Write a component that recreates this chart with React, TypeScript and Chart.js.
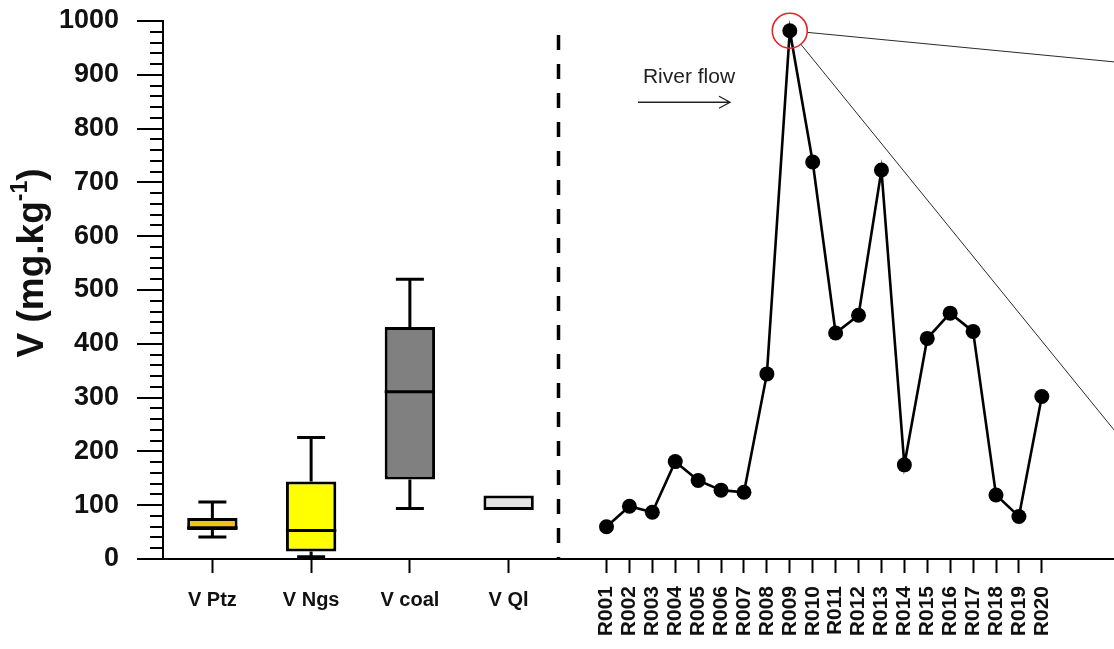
import React, { useEffect, useRef } from 'react';
import { Chart, registerables } from 'chart.js';

Chart.register(...registerables);

// ---------- data ----------
const boxCategories = ['V Ptz', 'V Ngs', 'V coal', 'V Ql'];
const boxWhiskerLow = [41, 4, 94, 91];
const boxQ1 = [54, 14, 148, 91];
const boxMedian: (number | null)[] = [58, 53, 311, null];
const boxQ3 = [76, 144, 431, 118];
const boxWhiskerHigh = [106, 226, 520, 118];
const boxColors = ['#f2c21a', '#ffff00', '#808080', '#e4e4e4'];

const siteLabels = [
  'R001', 'R002', 'R003', 'R004', 'R005', 'R006', 'R007', 'R008', 'R009', 'R010',
  'R011', 'R012', 'R013', 'R014', 'R015', 'R016', 'R017', 'R018', 'R019', 'R020',
];
const siteValues = [60, 98, 87, 181, 146, 128, 124, 344, 982, 738, 420, 453, 723, 175, 410, 457, 423, 119, 79, 302];

const yMin = 0;
const yMax = 1000;
const yMajorStep = 100;
const yMinorStep = 20;

const highlightIndex = 8; // R009
const connectorEndValues = [924, 240];

const FONT = '"Liberation Sans", Arial, Helvetica, sans-serif';

// ---------- plugins ----------
const yTicksPlugin = {
  id: 'yTicks',
  afterDraw(chart: any) {
    const { ctx, chartArea, scales } = chart;
    const y = scales.y;
    ctx.save();
    ctx.strokeStyle = '#000';
    ctx.lineWidth = 2;
    for (let v = yMin; v <= yMax; v += yMinorStep) {
      const py = Math.round(y.getPixelForValue(v));
      const len = v % yMajorStep === 0 ? 26 : 13;
      ctx.beginPath();
      ctx.moveTo(chartArea.left - len, py);
      ctx.lineTo(chartArea.left, py);
      ctx.stroke();
    }
    // axis title with superscript
    ctx.translate(33, 263);
    ctx.rotate(-Math.PI / 2);
    ctx.fillStyle = '#111';
    ctx.textBaseline = 'middle';
    ctx.textAlign = 'left';
    const main = `bold 37px ${FONT}`;
    const sup = `bold 23px ${FONT}`;
    ctx.font = main;
    const w1 = ctx.measureText('V (mg.kg').width;
    const w3 = ctx.measureText(')').width;
    ctx.font = sup;
    const w2 = ctx.measureText('-1').width;
    const total = w1 + w2 + w3;
    let x0 = -total / 2;
    ctx.font = main;
    ctx.fillText('V (mg.kg', x0, 0);
    x0 += w1;
    ctx.font = sup;
    ctx.fillText('-1', x0, -12);
    x0 += w2;
    ctx.font = main;
    ctx.fillText(')', x0, 0);
    ctx.restore();
  },
};

const boxPlugin = {
  id: 'boxWhiskers',
  afterDatasetsDraw(chart: any) {
    const { ctx, scales, chartArea } = chart;
    const x = scales.x;
    const y = scales.y;
    const meta = chart.getDatasetMeta(0);
    ctx.save();
    ctx.strokeStyle = '#000';
    ctx.lineWidth = 3;
    const capHalf = 14;
    boxCategories.forEach((_, i) => {
      const cx = x.getPixelForValue(i);
      const bar = meta.data[i];
      const half = bar ? bar.width / 2 : 25;
      if (boxWhiskerHigh[i] > boxQ3[i]) {
        const a = y.getPixelForValue(boxQ3[i]);
        const b = y.getPixelForValue(boxWhiskerHigh[i]);
        ctx.beginPath();
        ctx.moveTo(cx, a);
        ctx.lineTo(cx, b);
        ctx.moveTo(cx - capHalf, b);
        ctx.lineTo(cx + capHalf, b);
        ctx.stroke();
      }
      if (boxWhiskerLow[i] < boxQ1[i]) {
        const a = y.getPixelForValue(boxQ1[i]);
        const b = y.getPixelForValue(boxWhiskerLow[i]);
        ctx.beginPath();
        ctx.moveTo(cx, a);
        ctx.lineTo(cx, b);
        ctx.moveTo(cx - capHalf, b);
        ctx.lineTo(cx + capHalf, b);
        ctx.stroke();
      }
      const m = boxMedian[i];
      if (m != null) {
        const py = y.getPixelForValue(m);
        ctx.beginPath();
        ctx.moveTo(cx - half, py);
        ctx.lineTo(cx + half, py);
        ctx.stroke();
      }
    });
    // dashed separator
    ctx.setLineDash([15, 14]);
    ctx.lineWidth = 3.5;
    ctx.beginPath();
    ctx.moveTo(chartArea.right + 0.5, y.getPixelForValue(974));
    ctx.lineTo(chartArea.right + 0.5, chartArea.bottom);
    ctx.stroke();
    ctx.restore();
  },
};

const annotationPlugin = {
  id: 'annot',
  afterDatasetsDraw(chart: any) {
    const { ctx, scales, chartArea } = chart;
    const x = scales.x;
    const y = scales.y;
    const pt = chart.getDatasetMeta(0).data[highlightIndex];
    if (!pt) return;
    const cx = pt.x;
    const cy = pt.y;
    const r = 17.5;
    ctx.save();
    // connectors
    ctx.strokeStyle = '#2a2a2a';
    ctx.lineWidth = 1;
    connectorEndValues.forEach((v) => {
      const tx = chartArea.right;
      const ty = y.getPixelForValue(v);
      const ang = Math.atan2(ty - cy, tx - cx);
      ctx.beginPath();
      ctx.moveTo(cx + r * Math.cos(ang), cy + r * Math.sin(ang));
      ctx.lineTo(tx, ty);
      ctx.stroke();
    });
    // red circle
    ctx.strokeStyle = '#e3252b';
    ctx.lineWidth = 1.6;
    ctx.beginPath();
    ctx.arc(cx, cy, r, 0, Math.PI * 2);
    ctx.stroke();
    // River flow
    ctx.fillStyle = '#222';
    ctx.font = `21px ${FONT}`;
    ctx.textAlign = 'left';
    ctx.textBaseline = 'middle';
    ctx.fillText('River flow', x.getPixelForValue(2.59), y.getPixelForValue(896));
    const ax0 = x.getPixelForValue(2.375);
    const ax1 = x.getPixelForValue(6.39);
    const ay = y.getPixelForValue(849);
    ctx.strokeStyle = '#222';
    ctx.lineWidth = 1.3;
    ctx.beginPath();
    ctx.moveTo(ax0, ay);
    ctx.lineTo(ax1, ay);
    ctx.moveTo(ax1 - 11, ay - 6);
    ctx.lineTo(ax1, ay);
    ctx.lineTo(ax1 - 11, ay + 6);
    ctx.stroke();
    ctx.restore();
  },
};

const X_AXIS_HEIGHT = 90;

export default function App() {
  const leftRef = useRef<HTMLCanvasElement | null>(null);
  const rightRef = useRef<HTMLCanvasElement | null>(null);

  useEffect(() => {
    if (!leftRef.current || !rightRef.current) return;

    const left = new Chart(leftRef.current, {
      type: 'bar',
      data: {
        labels: boxCategories,
        datasets: [
          {
            data: boxCategories.map((_, i) => [boxQ1[i], boxQ3[i]]) as any,
            backgroundColor: boxColors,
            borderColor: '#000',
            borderWidth: 3,
            borderSkipped: false,
            barPercentage: 0.51,
            categoryPercentage: 1,
          },
        ],
      },
      options: {
        responsive: false,
        animation: false,
        layout: { autoPadding: false, padding: { top: 21, right: 4, left: 0, bottom: 0 } },
        plugins: { legend: { display: false }, tooltip: { enabled: false } },
        scales: {
          x: {
            type: 'category',
            offset: true,
            grid: {
              display: true,
              drawOnChartArea: false,
              drawTicks: true,
              tickLength: 14,
              tickWidth: 2,
              color: '#000',
              offset: false,
            },
            border: { display: true, color: '#000', width: 2 },
            ticks: {
              color: '#111',
              font: { family: FONT, size: 20, weight: 'bold' },
              padding: 15,
              maxRotation: 0,
              minRotation: 0,
            },
            afterFit: (s: any) => {
              s.height = X_AXIS_HEIGHT;
              s.paddingLeft = 0;
              s.paddingRight = 0;
            },
          },
          y: {
            min: yMin,
            max: yMax,
            grid: { display: false, drawTicks: false },
            border: { display: true, color: '#000', width: 2 },
            ticks: {
              stepSize: yMajorStep,
              color: '#111',
              font: { family: FONT, size: 27, weight: 'bold' },
              padding: 44,
              callback: (v: any) => String(v),
            },
            afterFit: (s: any) => {
              s.width = 163;
              s.paddingTop = 0;
              s.paddingBottom = 0;
            },
          },
        },
      } as any,
      plugins: [yTicksPlugin, boxPlugin],
    });

    const right = new Chart(rightRef.current, {
      type: 'line',
      data: {
        datasets: [
          {
            data: siteValues.map((v, i) => ({ x: i + 1, y: v })),
            borderColor: '#000',
            borderWidth: 2.6,
            pointRadius: 7.5,
            pointBackgroundColor: '#000',
            pointBorderColor: '#000',
            pointBorderWidth: 0,
            tension: 0,
            fill: false,
            clip: false,
          },
        ],
      },
      options: {
        responsive: false,
        animation: false,
        layout: { autoPadding: false, padding: { top: 21, right: 0, left: 0, bottom: 0 } },
        plugins: { legend: { display: false }, tooltip: { enabled: false } },
        scales: {
          x: {
            type: 'linear',
            min: -1.117,
            max: 23.15,
            afterBuildTicks: (s: any) => {
              s.ticks = siteLabels.map((_, i) => ({ value: i + 1 }));
            },
            grid: {
              display: true,
              drawOnChartArea: false,
              drawTicks: true,
              tickLength: 14,
              tickWidth: 2,
              color: '#000',
            },
            border: { display: true, color: '#000', width: 2 },
            ticks: {
              autoSkip: false,
              minRotation: 90,
              maxRotation: 90,
              color: '#111',
              font: { family: FONT, size: 21, weight: 'bold' },
              padding: 13,
              callback: (v: any) => siteLabels[Math.round(v) - 1] ?? '',
            },
            afterFit: (s: any) => {
              s.height = X_AXIS_HEIGHT;
              s.paddingLeft = 0;
              s.paddingRight = 0;
            },
          },
          y: {
            display: false,
            min: yMin,
            max: yMax,
          },
        },
      } as any,
      plugins: [annotationPlugin],
    });

    return () => {
      left.destroy();
      right.destroy();
    };
  }, []);

  return (
    <div
      style={{
        position: 'fixed',
        left: 0,
        top: 0,
        width: 1114,
        height: 649,
        background: '#fff',
        overflow: 'hidden',
      }}
    >
      <canvas
        ref={leftRef}
        width={562}
        height={649}
        style={{ position: 'absolute', left: 0, top: 0 }}
      />
      <canvas
        ref={rightRef}
        width={556}
        height={649}
        style={{ position: 'absolute', left: 558, top: 0 }}
      />
    </div>
  );
}
